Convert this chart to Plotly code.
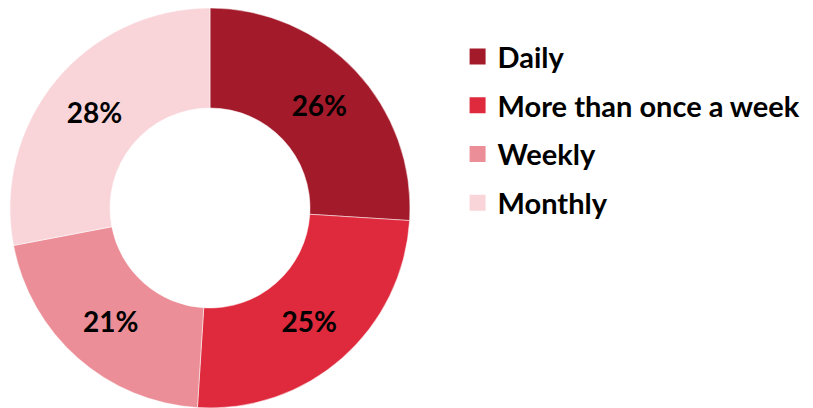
import plotly.graph_objects as go

FREQUENCY = ["Daily", "More than once a week", "Weekly", "Monthly"]
SHARE = [26, 25, 21, 28]
COLORS = ["#A31A2A", "#DE2A3C", "#EC8E97", "#F9D5DA"]

BOLD = dict(family="Lato", color="black", weight="bold")

fig = go.Figure()
fig.add_trace(
    go.Pie(
        labels=FREQUENCY,
        values=SHARE,
        hole=0.5,
        sort=False,
        direction="clockwise",
        rotation=0,
        marker=dict(colors=COLORS, line=dict(color="white", width=0.5)),
        texttemplate="%{value}%",
        textposition="inside",
        insidetextorientation="horizontal",
        textfont=dict(size=28, **BOLD),
        showlegend=False,
        domain=dict(x=[2 / 813, 402 / 813], y=[8 / 408, 1]),
    )
)

# legend-only entries, one group each so the rows can be spaced out
for name, color in zip(FREQUENCY, COLORS):
    fig.add_trace(
        go.Scatter(
            x=[None],
            y=[None],
            mode="markers",
            name=name,
            legendgroup=name,
            marker=dict(symbol="square", size=18, color=color),
        )
    )

fig.update_layout(
    width=813,
    height=408,
    margin=dict(l=0, r=0, t=0, b=0),
    paper_bgcolor="white",
    plot_bgcolor="white",
    xaxis=dict(visible=False),
    yaxis=dict(visible=False),
    legend=dict(x=0.553, y=0.943, xanchor="left", yanchor="top", itemwidth=30,
                tracegroupgap=8, font=dict(size=29, **BOLD)),
)

fig.write_html("out.html")
